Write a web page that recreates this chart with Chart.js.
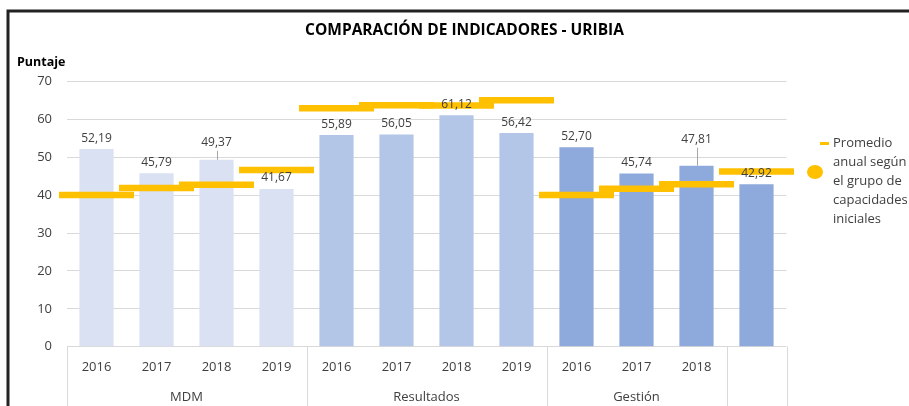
<!DOCTYPE html>
<html>
<head>
<meta charset="utf-8">
<script src="https://cdn.jsdelivr.net/npm/chart.js@4.4.0/dist/chart.umd.min.js"></script>
<style>
  html, body { margin: 0; padding: 0; background: #fff; }
  canvas { display: block; }
</style>
</head>
<body>
<canvas id="chart" width="909" height="406"></canvas>
<script>
// Data
const years = ['2016', '2017', '2018', '2019', '2016', '2017', '2018', '2019', '2016', '2017', '2018', ''];
const groups = ['MDM', 'Resultados', 'Gestión', ''];
const groupSizes = [4, 4, 3, 1];
const puntaje = [52.19, 45.79, 49.37, 41.67, 55.89, 56.05, 61.12, 56.42, 52.70, 45.74, 47.81, 42.92];
const promedio = [40.1, 41.9, 42.8, 46.7, 63.0, 63.8, 63.7, 65.1, 40.1, 41.7, 42.9, 46.3];
const yTicks = [0, 10, 20, 30, 40, 50, 60, 70];
const title = 'COMPARACIÓN DE INDICADORES - URIBIA';
const yTitle = 'Puntaje';
const legendLines = ['Promedio', 'anual según', 'el grupo de', 'capacidades', 'iniciales'];

const FONT = '"Open Sans", "Noto Sans", sans-serif';
const TEXT = '#404040';
const groupColors = ['#D9E1F2', '#B4C6E7', '#8EA9DB', '#8EA9DB'];
const barColors = [];
groupSizes.forEach((n, g) => { for (let i = 0; i < n; i++) barColors.push(groupColors[g]); });

// some labels were dragged up in the original, with a leader line
const labelLift = { 2: 6, 10: 15 };
const fmt = v => v.toFixed(2).replace('.', ',');

const decor = {
  id: 'decor',
  beforeDraw(chart) {
    const ctx = chart.ctx;
    ctx.save();
    ctx.fillStyle = '#fff';
    ctx.fillRect(0, 0, chart.width, chart.height);
    ctx.restore();
  },
  afterDatasetsDraw(chart) {
    const ctx = chart.ctx;
    const meta = chart.getDatasetMeta(1);
    ctx.save();
    ctx.font = '12px ' + FONT;
    ctx.fillStyle = TEXT;
    ctx.textAlign = 'center';
    ctx.textBaseline = 'middle';
    meta.data.forEach((bar, i) => {
      const lift = labelLift[i] || 0;
      const y = bar.y - 11 - lift;
      if (lift) {
        ctx.strokeStyle = '#a6a6a6';
        ctx.lineWidth = 1;
        ctx.beginPath();
        ctx.moveTo(Math.round(bar.x) + 0.5, y + 8);
        ctx.lineTo(Math.round(bar.x) + 0.5, bar.y);
        ctx.stroke();
      }
      ctx.fillText(fmt(puntaje[i]), bar.x, y);
    });
    ctx.restore();
  },
  afterDraw(chart) {
    const ctx = chart.ctx;
    const x = chart.scales.x;
    const area = chart.chartArea;
    ctx.save();

    // outer frame (top + left)
    ctx.strokeStyle = '#222';
    ctx.lineWidth = 3;
    ctx.beginPath();
    ctx.moveTo(8, chart.height);
    ctx.lineTo(8, 11);
    ctx.lineTo(chart.width, 11);
    ctx.stroke();

    // title and y caption
    ctx.fillStyle = '#000';
    ctx.textBaseline = 'middle';
    ctx.textAlign = 'center';
    ctx.font = 'bold 15.5px ' + FONT;
    ctx.fillText(title, 464.5, 30.5);
    ctx.textAlign = 'left';
    ctx.font = 'bold 12.5px ' + FONT;
    ctx.fillText(yTitle, 17, 62);

    // group separators and group names under the years
    const half = (x.getPixelForValue(1) - x.getPixelForValue(0)) / 2;
    ctx.strokeStyle = '#d9d9d9';
    ctx.lineWidth = 1;
    let start = 0;
    const bounds = [x.getPixelForValue(0) - half];
    groupSizes.forEach((n, g) => {
      const first = x.getPixelForValue(start);
      const last = x.getPixelForValue(start + n - 1);
      bounds.push(last + half);
      ctx.fillStyle = TEXT;
      ctx.textAlign = 'center';
      ctx.font = '13px ' + FONT;
      ctx.fillText(groups[g], (first + last) / 2, 397.5);
      start += n;
    });
    bounds.forEach(b => {
      ctx.beginPath();
      ctx.moveTo(Math.round(b) + 0.5, area.bottom);
      ctx.lineTo(Math.round(b) + 0.5, chart.height);
      ctx.stroke();
    });

    // legend (as laid out in the original)
    ctx.strokeStyle = '#FFC000';
    ctx.lineWidth = 3;
    ctx.beginPath();
    ctx.moveTo(820, 143.5);
    ctx.lineTo(829, 143.5);
    ctx.stroke();
    ctx.fillStyle = '#FFC000';
    ctx.beginPath();
    ctx.ellipse(815, 172, 8, 7, 0, 0, Math.PI * 2);
    ctx.fill();
    ctx.fillStyle = TEXT;
    ctx.textAlign = 'left';
    ctx.font = '13px ' + FONT;
    legendLines.forEach((t, i) => ctx.fillText(t, 833, 143 + i * 19));

    ctx.restore();
  }
};

new Chart(document.getElementById('chart'), {
  data: {
    labels: years,
    datasets: [
      {
        type: 'line',
        label: legendLines.join(' '),
        data: promedio,
        showLine: false,
        pointStyle: 'line',
        pointRadius: 37.5,
        pointHoverRadius: 37.5,
        pointBorderWidth: 6.5,
        pointHoverBorderWidth: 6.5,
        borderColor: '#FFC000',
        backgroundColor: '#FFC000',
        order: 0
      },
      {
        type: 'bar',
        label: yTitle,
        data: puntaje,
        backgroundColor: barColors,
        barPercentage: 0.57,
        categoryPercentage: 1,
        order: 1
      }
    ]
  },
  options: {
    responsive: false,
    animation: false,
    devicePixelRatio: 1,
    layout: { padding: { left: 0, right: 122.5, top: 81.7, bottom: 0 } },
    plugins: { legend: { display: false }, title: { display: false }, tooltip: { enabled: false } },
    scales: {
      x: {
        type: 'category',
        offset: true,
        grid: { display: false, drawTicks: false },
        border: { display: false },
        ticks: { color: TEXT, font: { family: FONT, size: 13 }, padding: 13, maxRotation: 0, autoSkip: false },
        afterFit(scale) { scale.height = 406 - 346.7; }
      },
      y: {
        min: 0,
        max: 70,
        afterBuildTicks(scale) { scale.ticks = yTicks.map(v => ({ value: v })); },
        grid: { color: '#d9d9d9', drawTicks: false },
        border: { display: false },
        ticks: { color: TEXT, font: { family: FONT, size: 13 }, padding: 14.5 },
        afterFit(scale) { scale.width = 66.5; }
      }
    }
  },
  plugins: [decor]
});
</script>
</body>
</html>
